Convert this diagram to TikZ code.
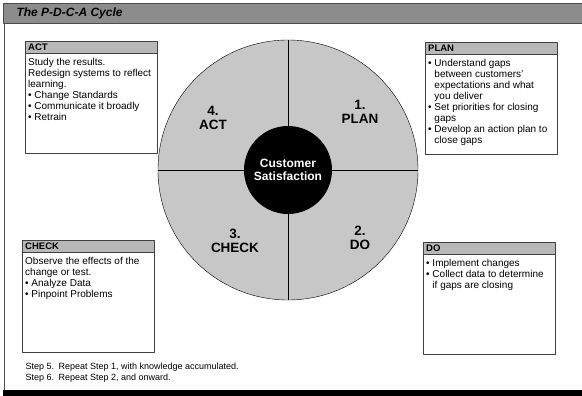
\documentclass[tikz,border=0pt]{standalone}
\usepackage{fontspec}
\setmainfont{Liberation Sans}
\usetikzlibrary{positioning}
\begin{document}
\begin{tikzpicture}[x=1pt,y=-1pt,line join=round,font=\fontsize{10}{11}\selectfont,
 hdr/.style={draw=black!75,fill=black!28,anchor=north west,text width=126pt,inner xsep=3pt,inner ysep=1pt,minimum height=12pt,align=left,font=\fontsize{9.5}{10}\selectfont\bfseries},
 body/.style={draw=black!75,anchor=north west,inner xsep=3pt,inner ysep=5pt},
 quad/.style={align=center,font=\fontsize{13.5}{14}\selectfont\bfseries}]
 \def\bw{126pt} % text width inside a box
 \def\bh{90pt}
 \def\dotb{\textbullet\ }
 \def\indb{\hphantom{\textbullet\ }}
 \useasboundingbox (0,0) rectangle (582,396);
 % frame and title bar
 \draw[black!70,line width=1pt] (4,23) -- (4,391);
 \fill (3,390) rectangle (582,396);
 \draw[black!70,fill=black!45] (3,3) rectangle (584,23);
 \node[anchor=west,font=\fontsize{12}{14}\selectfont\bfseries\itshape] (title) at (13,13) {The P-D-C-A Cycle};
 % the wheel
 \node[circle,draw,fill=black!22,minimum size=260pt,inner sep=0pt] (wheel) at (288,170) {};
 \node[circle,fill=black,minimum size=88pt,inner sep=0pt,text=white,align=center,font=\fontsize{12}{13}\selectfont\bfseries] (hub) at (wheel.center) {Customer\\Satisfaction};
 \draw (wheel.north) -- (hub.north) (hub.south) -- (wheel.south)
       (wheel.west) -- (hub.west) (hub.east) -- (wheel.east);
 \node[quad] (plan) at (360,112) {1.\\PLAN};
 \node[quad] (do) at (360,238) {2.\\DO};
 \node[quad] (check) at (235,241) {3.\\CHECK};
 \node[quad] (act) at (213,118) {4.\\ACT};
 % side boxes
 \node[hdr] (acthd) at (25,41) {ACT};
 \node[body] (actbody) at (acthd.south west) {\parbox[t][\bh][t]{\bw}{\raggedright
  Study the results.\\ Redesign systems to reflect\\ learning.\\
  \dotb Change Standards\\ \dotb Communicate it broadly\\ \dotb Retrain}};
 \node[hdr] (planhd) at (425,42) {PLAN};
 \node[body] (planbody) at (planhd.south west) {\parbox[t][\bh][t]{\bw}{\raggedright
  \dotb Understand gaps\\ \indb between customers'\\ \indb expectations and what\\ \indb you deliver\\
  \dotb Set priorities for closing\\ \indb gaps\\ \dotb Develop an action plan to\\ \indb close gaps}};
 \node[hdr] (checkhd) at (22,240) {CHECK};
 \node[body] (checkbody) at (checkhd.south west) {\parbox[t][\bh][t]{\bw}{\raggedright
  Observe the effects of the\\ change or test.\\ \dotb Analyze Data\\ \dotb Pinpoint Problems}};
 \node[hdr] (dohd) at (423,242) {DO};
 \node[body] (dobody) at (dohd.south west) {\parbox[t][\bh][t]{\bw}{\raggedright
  \dotb Implement changes\\ \dotb Collect data to determine\\ \indb if gaps are closing}};
 \node[anchor=north west,align=left,font=\fontsize{9}{11}\selectfont] (steps) at (22,359)
  {Step 5.\enspace Repeat Step 1, with knowledge accumulated.\\Step 6.\enspace Repeat Step 2, and onward.};
\end{tikzpicture}
\end{document}
